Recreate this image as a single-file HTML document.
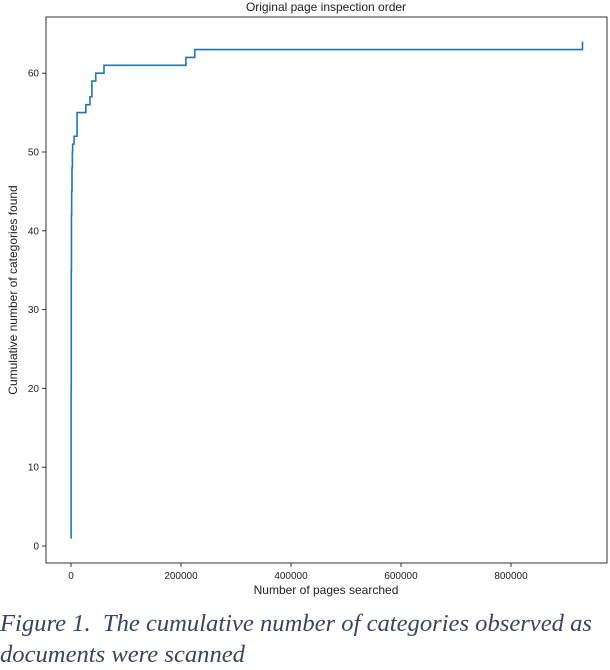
<!DOCTYPE html>
<html><head><meta charset="utf-8"><style>
body{margin:0;background:#fff;width:610px;height:652px;overflow:hidden;position:relative;font-family:"Liberation Sans",sans-serif}
.cap{position:absolute;left:0;top:608px;font-family:"Liberation Serif",serif;font-style:italic;font-size:24.6px;color:#3a4560;white-space:nowrap;line-height:31px}
</style></head><body>
<svg id="chart" width="610" height="600" style="position:absolute;left:0;top:0">
<text x="326" y="11" text-anchor="middle" font-size="12" fill="#222">Original page inspection order</text>
<g id="ticks"></g>
<path id="line" fill="none" stroke="#1f77b4" stroke-width="1.6"/>
<rect x="46" y="17" width="561" height="546" fill="none" stroke="#333" stroke-width="1"/>
<text x="326" y="594" text-anchor="middle" font-size="12" fill="#222">Number of pages searched</text>
<text transform="translate(17,290) rotate(-90)" text-anchor="middle" font-size="12" fill="#222">Cumulative number of categories found</text>
</svg>
<div class="cap">Figure 1.&nbsp; The cumulative number of categories observed as<br>documents were scanned</div>
<script>
const pages=[0,200,500,800,1200,1800,2500,3000,5500,11000,27000,34500,38000,45000,60000,209000,225000,930000,930000];
const found=[1,20,35,42,45,48,50,51,52,55,56,57,59,60,61,62,63,63,64];
const xTicks=[0,200000,400000,600000,800000];
const yTicks=[0,10,20,30,40,50,60];
const xs=v=>71+v*(440/800000);
const ys=v=>546-v*7.88;
let d='';
for(let i=0;i<pages.length;i++){
  if(i===0) d+='M'+xs(pages[0])+','+ys(found[0]);
  else d+='H'+xs(pages[i])+'V'+ys(found[i]);
}
document.getElementById('line').setAttribute('d',d);
const g=document.getElementById('ticks');
const ns='http://www.w3.org/2000/svg';
xTicks.forEach(t=>{
  const l=document.createElementNS(ns,'line');
  l.setAttribute('x1',xs(t));l.setAttribute('x2',xs(t));l.setAttribute('y1',563);l.setAttribute('y2',567);l.setAttribute('stroke','#333');
  
  
  g.appendChild(l);
  const tx=document.createElementNS(ns,'text');
  tx.setAttribute('x',xs(t));tx.setAttribute('y',579);tx.setAttribute('text-anchor','middle');tx.setAttribute('font-size','10');tx.setAttribute('fill','#222');
  tx.textContent=t;
  
  
  g.appendChild(tx);
});
yTicks.forEach(t=>{
  const l=document.createElementNS(ns,'line');
  l.setAttribute('x1',42);l.setAttribute('x2',46);l.setAttribute('y1',ys(t));l.setAttribute('y2',ys(t));l.setAttribute('stroke','#333');
  
  
  g.appendChild(l);
  const tx=document.createElementNS(ns,'text');
  tx.setAttribute('x',39);tx.setAttribute('y',ys(t)+3.5);tx.setAttribute('text-anchor','end');tx.setAttribute('font-size','10');tx.setAttribute('fill','#222');
  tx.textContent=t;
  
  
  g.appendChild(tx);
});
</script>
</body></html>
